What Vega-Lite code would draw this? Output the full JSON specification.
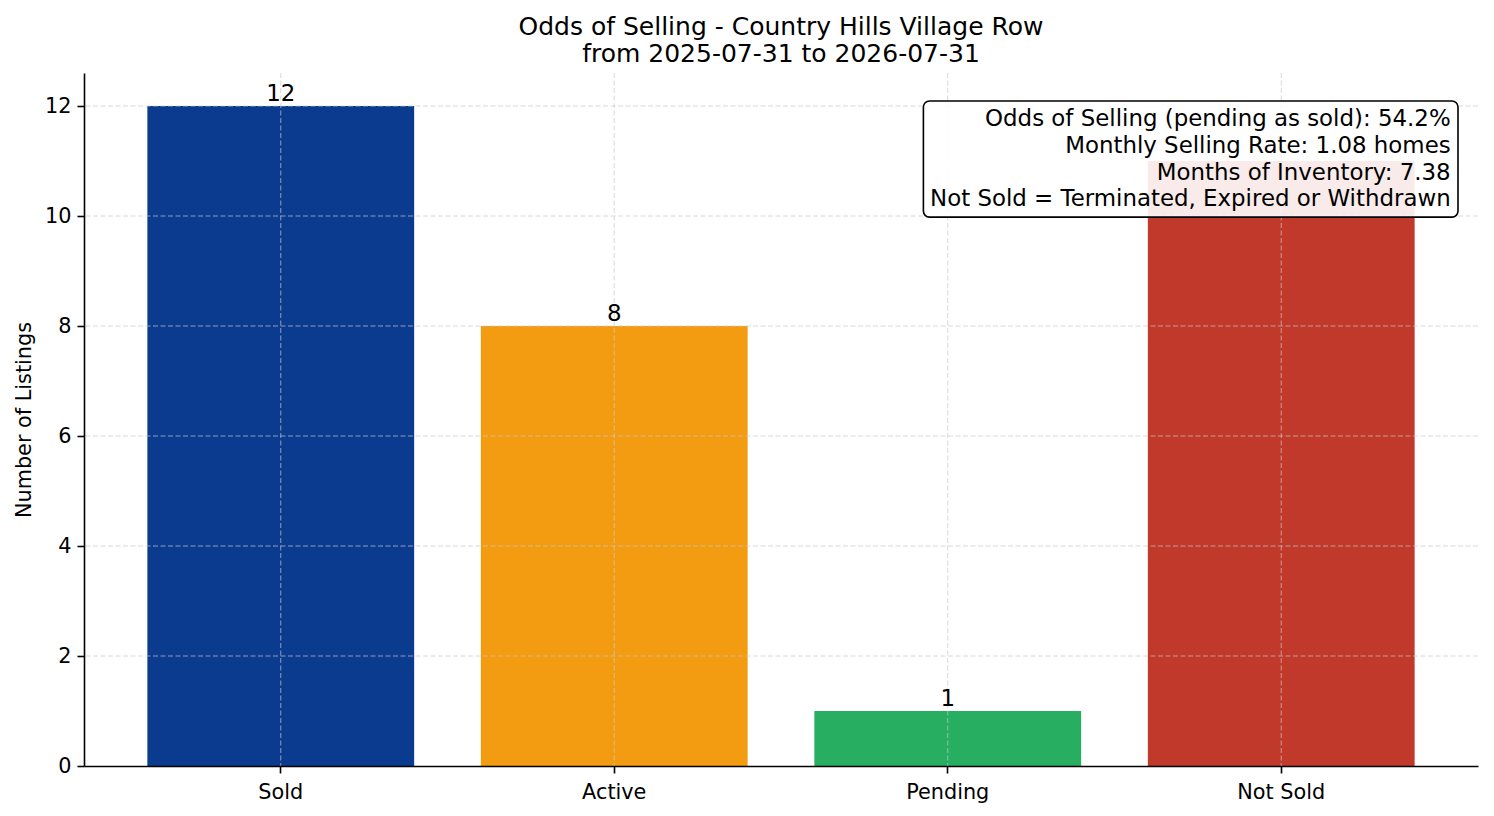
{
  "$schema": "https://vega.github.io/schema/vega-lite/v6.json",
  "width": 1394,
  "height": 693,
  "autosize": {"type": "none"},
  "padding": {"left": 84, "top": 73, "right": 16, "bottom": 50},
  "background": "white",
  "config": {
    "font": "DejaVu Sans",
    "view": {"stroke": null}
  },
  "title": {
    "text": ["Odds of Selling - Country Hills Village Row", "from 2025-07-31 to 2026-07-31"],
    "fontSize": 25,
    "fontWeight": "normal",
    "font": "DejaVu Sans",
    "color": "black",
    "lineHeight": 27,
    "anchor": "middle",
    "offset": 6
  },
  "datasets": {
    "counts": [
      {"status": "Sold", "count": 12},
      {"status": "Active", "count": 8},
      {"status": "Pending", "count": 1},
      {"status": "Not Sold", "count": 11}
    ],
    "yticks": [
      {"v": 2}, {"v": 4}, {"v": 6}, {"v": 8}, {"v": 10}, {"v": 12}
    ]
  },
  "layer": [
    {
      "data": {"name": "counts"},
      "layer": [
        {
          "mark": {"type": "bar"},
          "encoding": {
            "x": {
              "field": "status",
              "type": "nominal",
              "sort": null,
              "scale": {"paddingInner": 0.2, "paddingOuter": 0.19},
              "axis": {
                "title": null,
                "labelAngle": 0,
                "labelFontSize": 20.8,
                "labelColor": "black",
                "labelPadding": 9,
                "bandPosition": 0.5,
                "tickSize": 7,
                "tickWidth": 1.6,
                "tickColor": "black",
                "domainColor": "black",
                "domainWidth": 1.6,
                "grid": false,
                "zindex": 1
              }
            },
            "y": {
              "field": "count",
              "type": "quantitative",
              "scale": {"domain": [0, 12.6], "nice": false},
              "axis": {
                "title": "Number of Listings",
                "titleFontSize": 20.8,
                "titleFontWeight": "normal",
                "titleColor": "black",
                "titlePadding": 10,
                "values": [0, 2, 4, 6, 8, 10, 12],
                "format": "d",
                "labelFontSize": 20.8,
                "labelColor": "black",
                "labelPadding": 6,
                "tickSize": 7,
                "tickWidth": 1.6,
                "tickColor": "black",
                "domainColor": "black",
                "domainWidth": 1.6,
                "grid": false,
                "zindex": 1
              }
            },
            "color": {
              "field": "status",
              "type": "nominal",
              "scale": {
                "domain": ["Sold", "Active", "Pending", "Not Sold"],
                "range": ["#0b3b8f", "#f39c12", "#27ae60", "#c0392b"]
              },
              "legend": null
            }
          }
        },
        {
          "mark": {"type": "rule", "color": "#c8c8c8", "opacity": 0.7, "strokeDash": [5, 2.5], "strokeWidth": 1},
          "encoding": {
            "x": {"field": "status", "type": "nominal", "sort": null}
          }
        },
        {
          "transform": [{"filter": "datum.status != 'Not Sold'"}],
          "mark": {"type": "text", "fontSize": 22.9, "color": "black", "baseline": "alphabetic", "dy": -5},
          "encoding": {
            "x": {"field": "status", "type": "nominal", "sort": null},
            "y": {"field": "count", "type": "quantitative"},
            "text": {"field": "count", "type": "quantitative"}
          }
        }
      ]
    },
    {
      "data": {"name": "yticks"},
      "mark": {"type": "rule", "color": "#c8c8c8", "opacity": 0.7, "strokeDash": [5, 2.5], "strokeWidth": 1},
      "encoding": {
        "y": {"field": "v", "type": "quantitative", "axis": null}
      }
    },
    {
      "data": {"values": [{}]},
      "layer": [
        {
          "mark": {"type": "rect", "fill": "white", "fillOpacity": 0.9, "stroke": "black", "strokeWidth": 1.6, "cornerRadius": 6},
          "encoding": {
            "x": {"datum": 1.927, "type": "quantitative", "scale": {"domain": [-0.59, 3.59], "nice": false, "zero": false}, "axis": null},
            "x2": {"datum": 3.530},
            "y": {"datum": 9.98, "type": "quantitative", "axis": null},
            "y2": {"datum": 12.09}
          }
        },
        {
          "mark": {"type": "text", "fontSize": 22.9, "color": "black", "align": "right", "baseline": "middle", "lineHeight": 26.7},
          "encoding": {
            "x": {"datum": 3.508, "type": "quantitative", "scale": {"domain": [-0.59, 3.59], "nice": false, "zero": false}, "axis": null},
            "y": {"datum": 11.76, "type": "quantitative", "axis": null},
            "text": {"value": [
              "Odds of Selling (pending as sold): 54.2%",
              "Monthly Selling Rate: 1.08 homes",
              "Months of Inventory: 7.38",
              "Not Sold = Terminated, Expired or Withdrawn"
            ]}
          }
        }
      ]
    }
  ],
  "resolve": {"scale": {"x": "independent"}, "axis": {"x": "independent", "y": "independent"}}
}
